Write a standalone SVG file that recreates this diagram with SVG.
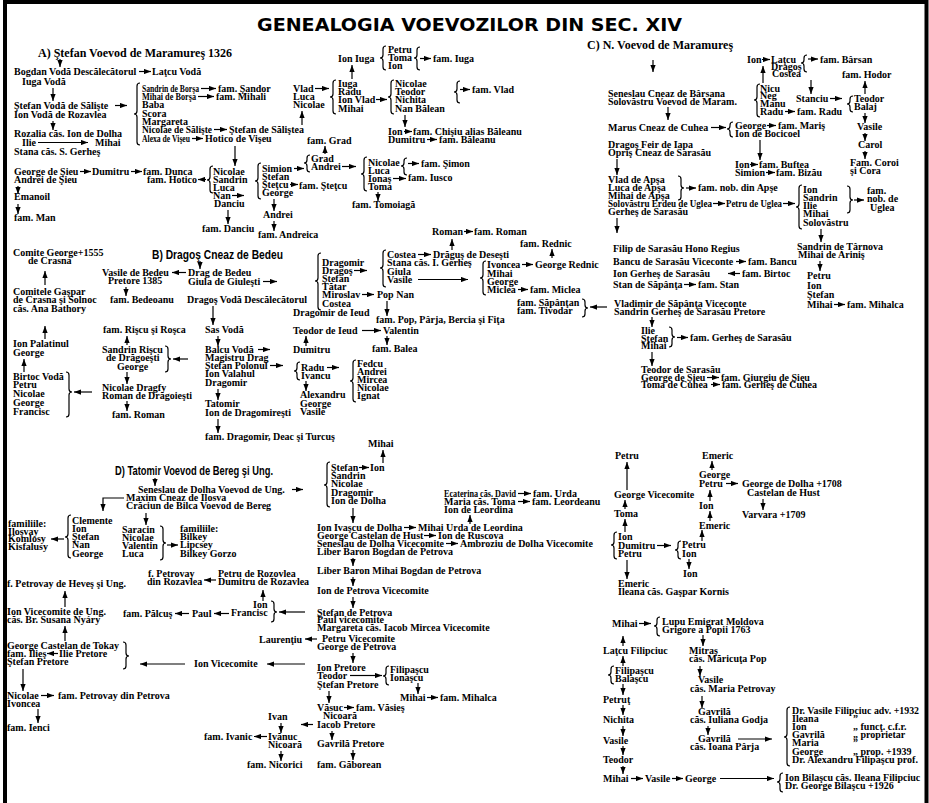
<svg xmlns="http://www.w3.org/2000/svg" width="929" height="803" viewBox="0 0 929 803">
<defs>
<marker id="ah" viewBox="0 0 8 6" refX="8" refY="3" markerWidth="7" markerHeight="5.5" orient="auto" markerUnits="userSpaceOnUse"><path d="M0,0 L8,3 L0,6 Z" fill="#000"/></marker>
<style>
.t{font-family:"Liberation Serif","Times New Roman",serif;font-weight:bold;font-size:10px;fill:#000}
.h{font-family:"Liberation Serif","Times New Roman",serif;font-weight:bold;font-size:12px;fill:#000}
.hs{font-family:"Liberation Sans Narrow","Liberation Sans",Arial,sans-serif;font-weight:bold;font-size:12px;fill:#000}
.ttl{font-family:"DejaVu Sans","Liberation Sans",sans-serif;font-weight:bold;font-size:18px;fill:#000}
.c line,.c polyline{stroke:#000;stroke-width:1.2;fill:none;marker-end:url(#ah)}
.b path{stroke:#000;stroke-width:1.2;fill:none}
</style>
</defs>
<rect width="929" height="803" fill="#fff"/>
<path d="M5,803 V2 H926.5 V803" stroke="#000" stroke-width="4" fill="none"/>
<g id="title"><text class="ttl" x="257" y="31" textLength="425" lengthAdjust="spacingAndGlyphs">GENEALOGIA VOEVOZILOR DIN SEC. XIV</text></g>

<!-- ===== A ===== -->
<g id="a-head"><text class="h" x="38" y="57">A) Ştefan Voevod de Maramureş 1326</text></g>
<g id="a-bogdan"><text class="t" x="14" y="75">Bogdan Vodă Descălecătorul</text></g>
<g id="a-latcu"><text class="t" x="152" y="75">Laţcu Vodă</text></g>
<g id="a-iuga"><text class="t" x="22" y="85">Iuga Vodă</text></g>
<g id="a-stefan"><text class="t"><tspan x="14" y="109">Ştefan Vodă de Sălişte</tspan><tspan x="14" y="118">Ion Vodă de Rozavlea</tspan></text></g>
<g id="a-rozalia"><text class="t"><tspan x="14" y="137">Rozalia căs. Ion de Dolha</tspan><tspan x="22" y="146">Ilie</tspan><tspan x="14" y="155">Stana căs. S. Gerheş</tspan></text></g>
<g id="a-mihai"><text class="t" x="95" y="146">Mihai</text></g>
<g id="a-list">
<text class="t" x="142" y="92" textLength="57" lengthAdjust="spacingAndGlyphs">Sandrin de Borşa</text>
<text class="t" x="142" y="100" textLength="54" lengthAdjust="spacingAndGlyphs">Mihai de Borşa</text>
<text class="t"><tspan x="142" y="108">Baba</tspan><tspan x="142" y="117">Scora</tspan><tspan x="142" y="125">Margareta</tspan></text>
<text class="t" x="142" y="133" textLength="70" lengthAdjust="spacingAndGlyphs">Nicolae de Sălişte</text>
<text class="t" x="142" y="142" textLength="48" lengthAdjust="spacingAndGlyphs">Alexa de Vişeu</text>
</g>
<g id="a-sandor"><text class="t" x="218" y="92">fam. Şandor</text></g>
<g id="a-mihali"><text class="t" x="216" y="100">fam. Mihali</text></g>
<g id="a-salistea"><text class="t" x="229" y="133">Ştefan de Săliştea</text></g>
<g id="a-hotico"><text class="t" x="205" y="142">Hotico de Vişeu</text></g>
<g id="a-vlad"><text class="t"><tspan x="293" y="92">Vlad</tspan><tspan x="293" y="100">Luca</tspan><tspan x="293" y="108">Nicolae</tspan></text></g>
<g id="a-famgrad"><text class="t" x="307" y="144">fam. Grad</text></g>
<g id="a-ioniuga"><text class="t" x="338" y="62">Ion Iuga</text></g>
<g id="a-petru"><text class="t"><tspan x="388" y="53">Petru</tspan><tspan x="388" y="61">Toma</tspan><tspan x="388" y="69">Ion</tspan></text></g>
<g id="a-famiuga"><text class="t" x="433" y="62">fam. Iuga</text></g>
<g id="a-iugalist"><text class="t"><tspan x="338" y="87">Iuga</tspan><tspan x="338" y="95">Radu</tspan><tspan x="338" y="103">Ion Vlad</tspan><tspan x="338" y="112">Mihai</tspan></text></g>
<g id="a-nicolaelist"><text class="t"><tspan x="395" y="87">Nicolae</tspan><tspan x="395" y="95">Teodor</tspan><tspan x="395" y="103">Nichita</tspan><tspan x="395" y="112">Nan Bălean</tspan></text></g>
<g id="a-famvlad"><text class="t" x="472" y="93">fam. Vlad</text></g>
<g id="a-ionchisiu"><text class="t"><tspan x="388" y="135">Ion</tspan><tspan x="413" y="135">fam. Chişiu alias Băleanu</tspan></text></g>
<g id="a-dumbaleanu"><text class="t"><tspan x="388" y="143">Dumitru</tspan><tspan x="439" y="143">fam. Băleanu</tspan></text></g>
<g id="a-george"><text class="t"><tspan x="14" y="175">George de Şieu</tspan><tspan x="14" y="183">Andrei de Şieu</tspan></text></g>
<g id="a-dumitru"><text class="t" x="92" y="175">Dumitru</text></g>
<g id="a-dunca"><text class="t" x="143" y="175">fam. Dunca</text></g>
<g id="a-famhotico"><text class="t" x="147" y="183">fam. Hotico</text></g>
<g id="a-emanoil"><text class="t" x="14" y="200">Emanoil</text></g>
<g id="a-famman"><text class="t" x="14" y="221">fam. Man</text></g>
<g id="a-nicolae2"><text class="t"><tspan x="213" y="175">Nicolae</tspan><tspan x="213" y="183">Sandrin</tspan><tspan x="213" y="191">Luca</tspan><tspan x="213" y="199">Nan</tspan><tspan x="214" y="207">Danciu</tspan></text></g>
<g id="a-famdanciu"><text class="t" x="202" y="232">fam. Danciu</text></g>
<g id="a-simion"><text class="t"><tspan x="262" y="172">Simion</tspan><tspan x="262" y="180">Ştefan</tspan><tspan x="262" y="188">Şteţcu</tspan><tspan x="262" y="196">George</tspan></text></g>
<g id="a-famstetcu"><text class="t" x="299" y="189">fam. Şteţcu</text></g>
<g id="a-andrei"><text class="t" x="263" y="218">Andrei</text></g>
<g id="a-andreica"><text class="t" x="258" y="238">fam. Andreica</text></g>
<g id="a-grad"><text class="t"><tspan x="311" y="162">Grad</tspan><tspan x="311" y="170">Andrei</tspan></text></g>
<g id="a-nicolae3"><text class="t"><tspan x="368" y="166">Nicolae</tspan><tspan x="368" y="174">Luca</tspan><tspan x="368" y="182">Ionaş</tspan><tspan x="368" y="190">Toma</tspan></text></g>
<g id="a-simon"><text class="t" x="421" y="167">fam. Şimon</text></g>
<g id="a-iusco"><text class="t" x="408" y="181">fam. Iusco</text></g>
<g id="a-tomoiaga"><text class="t" x="352" y="208">fam. Tomoiagă</text></g>

<!-- ===== C ===== -->
<g id="c-head"><text class="h" x="587" y="49">C) N. Voevod de Maramureş</text></g>
<g id="c-seneslau"><text class="t"><tspan x="608" y="97">Seneslau Cneaz de Bârsana</tspan><tspan x="608" y="105">Solovăstru Voevod de Maram.</tspan></text></g>
<g id="c-marus"><text class="t" x="608" y="131">Marus Cneaz de Cuhea</text></g>
<g id="c-george"><text class="t"><tspan x="735" y="129">George</tspan><tspan x="735" y="137">Ion de Bocicoel</tspan></text></g>
<g id="c-maris"><text class="t" x="778" y="129">fam. Mariş</text></g>
<g id="c-dragos"><text class="t"><tspan x="608" y="148">Dragoş Feir de Iapa</tspan><tspan x="608" y="156">Opriş Cneaz de Sarasău</tspan></text></g>
<g id="c-ion"><text class="t"><tspan x="735" y="168">Ion</tspan><tspan x="735" y="176">Simion</tspan></text></g>
<g id="c-buftea"><text class="t"><tspan x="759" y="168">fam. Buftea</tspan><tspan x="776" y="176">fam. Bizău</tspan></text></g>
<g id="c-apsa"><text class="t"><tspan x="608" y="183">Vlad de Apşa</tspan><tspan x="608" y="191">Luca de Apşa</tspan><tspan x="608" y="199">Mihai de Apşa</tspan></text>
<text class="t" x="608" y="207" textLength="104" lengthAdjust="spacingAndGlyphs">Solovăstru Erdeu de Uglea</text>
<text class="t" x="608" y="215">Gerheş de Sarasău</text></g>
<g id="c-nobapse"><text class="t" x="698" y="191">fam. nob. din Apşe</text></g>
<g id="c-petruuglea"><text class="t" x="726" y="207" textLength="56" lengthAdjust="spacingAndGlyphs">Petru de Uglea</text></g>
<g id="c-ionlist"><text class="t"><tspan x="803" y="193">Ion</tspan><tspan x="803" y="201">Sandrin</tspan><tspan x="803" y="209">Ilie</tspan><tspan x="803" y="217">Mihai</tspan><tspan x="803" y="226">Solovăstru</tspan></text></g>
<g id="c-nobuglea"><text class="t"><tspan x="867" y="194">fam.</tspan><tspan x="867" y="202">nob. de</tspan><tspan x="870" y="211">Uglea</tspan></text></g>
<g id="c-sandrin"><text class="t"><tspan x="797" y="250">Sandrin de Târnova</tspan><tspan x="798" y="258">Mihai de Ariniş</tspan></text></g>
<g id="c-petru"><text class="t"><tspan x="807" y="279">Petru</tspan><tspan x="807" y="289">Ion</tspan><tspan x="807" y="298">Ştefan</tspan><tspan x="807" y="308">Mihai</tspan></text></g>
<g id="c-mihalca"><text class="t" x="847" y="308">fam. Mihalca</text></g>
<g id="c-ionlatcu"><text class="t" x="747" y="63">Ion</text></g>
<g id="c-latcu"><text class="t"><tspan x="771" y="63">Laţcu</tspan><tspan x="771" y="70">Dragoş</tspan><tspan x="772" y="77">Costea</tspan></text></g>
<g id="c-barsan"><text class="t" x="820" y="63">fam. Bârsan</text></g>
<g id="c-hodor"><text class="t" x="842" y="78">fam. Hodor</text></g>
<g id="c-nicu"><text class="t"><tspan x="760" y="92">Nicu</tspan><tspan x="760" y="99">Neg</tspan><tspan x="760" y="107">Manu</tspan><tspan x="760" y="115">Radu</tspan></text></g>
<g id="c-famradu"><text class="t" x="797" y="115">fam. Radu</text></g>
<g id="c-stanciu"><text class="t" x="796" y="102">Stanciu</text></g>
<g id="c-teodor"><text class="t"><tspan x="854" y="102">Teodor</tspan><tspan x="854" y="110">Balaj</tspan></text></g>
<g id="c-vasile"><text class="t" x="857" y="130">Vasile</text></g>
<g id="c-carol"><text class="t" x="858" y="148">Carol</text></g>
<g id="c-coroi"><text class="t"><tspan x="850" y="166">Fam. Coroi</tspan><tspan x="850" y="174">şi Cora</tspan></text></g>
<g id="c-filip"><text class="t" x="613" y="252">Filip de Sarasău Hono Regius</text></g>
<g id="c-bancu"><text class="t"><tspan x="613" y="265">Bancu de Sarasău Viceconte</tspan><tspan x="748" y="265">fam. Bancu</tspan></text></g>
<g id="c-gerhes"><text class="t"><tspan x="613" y="277">Ion Gerheş de Sarasău</tspan><tspan x="742" y="277">fam. Birtoc</tspan></text></g>
<g id="c-stan"><text class="t"><tspan x="613" y="288">Stan de Săpânţa</tspan><tspan x="698" y="288">fam. Stan</tspan></text></g>
<g id="c-vladimir"><text class="t"><tspan x="614" y="307">Vladimir de Săpânţa Viceconte</tspan><tspan x="614" y="315">Sandrin Gerheş de Sarasău Pretore</tspan></text></g>
<g id="c-sapantan"><text class="t"><tspan x="517" y="306">fam. Săpânţan</tspan><tspan x="517" y="314">fam. Tivodar</tspan></text></g>
<g id="c-ilie"><text class="t"><tspan x="641" y="334">Ilie</tspan><tspan x="641" y="342">Ştefan</tspan><tspan x="641" y="349">Mihai</tspan></text></g>
<g id="c-famgerhes"><text class="t" x="690" y="341">fam. Gerheş de Sarasău</text></g>
<g id="c-teodorsar"><text class="t"><tspan x="641" y="373">Teodor de Sarasău</tspan><tspan x="641" y="381">George de Şieu</tspan><tspan x="641" y="388">Toma de Cuhea</tspan></text></g>
<g id="c-giurgiu"><text class="t"><tspan x="721" y="381">fam. Giurgiu de Şieu</tspan><tspan x="722" y="388">fam. Gerheş de Cuhea</tspan></text></g>

<!-- ===== B ===== -->
<g id="b-head"><text class="hs" x="152" y="259" textLength="131" lengthAdjust="spacingAndGlyphs">B) Dragoş Cneaz de Bedeu</text></g>
<g id="b-comite"><text class="t"><tspan x="13" y="256">Comite George+1555</tspan><tspan x="28" y="264">de Crasna</tspan></text></g>
<g id="b-gaspar"><text class="t"><tspan x="13" y="295">Comitele Gaşpar</tspan><tspan x="13" y="303">de Crasna şi Solnoc</tspan><tspan x="13" y="312">căs. Ana Bathory</tspan></text></g>
<g id="b-palatinul"><text class="t"><tspan x="13" y="347">Ion Palatinul</tspan><tspan x="13" y="356">George</tspan></text></g>
<g id="b-birtoc"><text class="t"><tspan x="13" y="380">Birtoc Vodă</tspan><tspan x="13" y="388">Petru</tspan><tspan x="13" y="397">Nicolae</tspan><tspan x="13" y="406">George</tspan><tspan x="13" y="415">Francisc</tspan></text></g>
<g id="b-vasile"><text class="t"><tspan x="102" y="276">Vasile de Bedeu</tspan><tspan x="108" y="284">Pretore 1385</tspan></text></g>
<g id="b-bedeoanu"><text class="t" x="110" y="303">fam. Bedeoanu</text></g>
<g id="b-drag"><text class="t"><tspan x="188" y="276">Drag de Bedeu</tspan><tspan x="188" y="285">Giula de Giuleşti</tspan></text></g>
<g id="b-dragosvoda"><text class="t" x="187" y="303">Dragoş Vodă Descălecătorul</text></g>
<g id="b-riscu"><text class="t" x="103" y="333">fam. Rişcu şi Roşca</text></g>
<g id="b-sandrin"><text class="t"><tspan x="102" y="353">Sandrin Rişcu</tspan><tspan x="106" y="361">de Drăgoeşti</tspan><tspan x="117" y="370">George</tspan></text></g>
<g id="b-dragfy"><text class="t"><tspan x="102" y="391">Nicolae Dragfy</tspan><tspan x="102" y="399">Roman de Drăgoieşti</tspan></text></g>
<g id="b-famroman1"><text class="t" x="112" y="418">fam. Roman</text></g>
<g id="b-sas"><text class="t" x="205" y="333">Sas Vodă</text></g>
<g id="b-balcu"><text class="t"><tspan x="205" y="353">Balcu Vodă</tspan><tspan x="205" y="361">Magistru Drag</tspan><tspan x="205" y="369">Ştefan Polonul</tspan><tspan x="205" y="377">Ion Valahul</tspan><tspan x="205" y="386">Dragomir</tspan></text></g>
<g id="b-tatomir"><text class="t"><tspan x="205" y="407">Tatomir</tspan><tspan x="205" y="416">Ion de Dragomireşti</tspan></text></g>
<g id="b-famdragomir"><text class="t" x="205" y="440">fam. Dragomir, Deac şi Turcuş</text></g>
<g id="b-dragomirlist"><text class="t"><tspan x="322" y="266">Dragomir</tspan><tspan x="322" y="274">Dragoş</tspan><tspan x="322" y="282">Ştefan</tspan><tspan x="322" y="290">Tătar</tspan><tspan x="322" y="298">Miroslav</tspan><tspan x="322" y="307">Costea</tspan></text></g>
<g id="b-ieud"><text class="t"><tspan x="293" y="316">Dragomir de Ieud</tspan><tspan x="293" y="334">Teodor de Ieud</tspan></text></g>
<g id="b-dumitru"><text class="t" x="293" y="353">Dumitru</text></g>
<g id="b-radu"><text class="t"><tspan x="301" y="371">Radu</tspan><tspan x="301" y="379">Ivancu</tspan></text></g>
<g id="b-alexandru"><text class="t"><tspan x="300" y="398">Alexandru</tspan><tspan x="300" y="407">George</tspan><tspan x="300" y="415">Vasile</tspan></text></g>
<g id="b-fedcu"><text class="t"><tspan x="357" y="367">Fedcu</tspan><tspan x="357" y="375">Andrei</tspan><tspan x="357" y="383">Mircea</tspan><tspan x="357" y="391">Nicolae</tspan><tspan x="357" y="399">Ignat</tspan></text></g>
<g id="b-popnan"><text class="t" x="377" y="298">Pop Nan</text></g>
<g id="b-fampop"><text class="t" x="376" y="323">fam. Pop, Pârja, Bercia şi Fiţa</text></g>
<g id="b-valentin"><text class="t" x="383" y="334">Valentin</text></g>
<g id="b-balea"><text class="t" x="372" y="352">fam. Balea</text></g>
<g id="b-costealist"><text class="t"><tspan x="387" y="258">Costea</tspan><tspan x="387" y="266">Stana căs. I. Gerheş</tspan><tspan x="387" y="275">Giula</tspan><tspan x="387" y="283">Vasile</tspan></text></g>
<g id="b-dragus"><text class="t" x="433" y="258">Drăguş de Deseşti</text></g>
<g id="b-roman"><text class="t"><tspan x="432" y="235">Roman</tspan><tspan x="474" y="235">fam. Roman</tspan></text></g>
<g id="b-rednic"><text class="t" x="520" y="247">fam. Rednic</text></g>
<g id="b-ivoncea"><text class="t"><tspan x="487" y="268">Ivoncea</tspan><tspan x="487" y="277">Mihai</tspan><tspan x="487" y="285">George</tspan><tspan x="487" y="293">Miclea</tspan></text></g>
<g id="b-georgerednic"><text class="t" x="535" y="268">George Rednic</text></g>
<g id="b-miclea"><text class="t" x="530" y="293">fam. Miclea</text></g>

<!-- ===== D ===== -->
<g id="d-head"><text class="hs" x="115" y="475" textLength="158" lengthAdjust="spacingAndGlyphs">D) Tatomir Voevod de Bereg şi Ung.</text></g>
<g id="d-seneslau"><text class="t" x="138" y="493">Seneslau de Dolha Voevod de Ung.</text></g>
<g id="d-maxim"><text class="t"><tspan x="126" y="501">Maxim Cneaz de Ilosva</tspan><tspan x="126" y="509">Crăciun de Bilca Voevod de Bereg</tspan></text></g>
<g id="d-fam1"><text class="t"><tspan x="8" y="527">familiile:</tspan><tspan x="8" y="535">Iloşvay</tspan><tspan x="8" y="542">Komlosy</tspan><tspan x="8" y="550">Kisfalusy</tspan></text></g>
<g id="d-clemente"><text class="t"><tspan x="72" y="524">Clemente</tspan><tspan x="72" y="532">Ion</tspan><tspan x="72" y="540">Ştefan</tspan><tspan x="72" y="548">Nan</tspan><tspan x="72" y="557">George</tspan></text></g>
<g id="d-saracin"><text class="t"><tspan x="122" y="533">Saracin</tspan><tspan x="122" y="541">Nicolae</tspan><tspan x="122" y="549">Valentin</tspan><tspan x="122" y="557">Luca</tspan></text></g>
<g id="d-fam2"><text class="t"><tspan x="180" y="532">familiile:</tspan><tspan x="180" y="540">Bilkey</tspan><tspan x="180" y="548">Lipcsey</tspan><tspan x="180" y="557">Bilkey Gorzo</tspan></text></g>
<g id="d-heves"><text class="t" x="7" y="587">f. Petrovay de Heveş şi Ung.</text></g>
<g id="d-frozavlea"><text class="t"><tspan x="148" y="577">f. Petrovay</tspan><tspan x="147" y="585">din Rozavlea</tspan></text></g>
<g id="d-petrurozovlea"><text class="t"><tspan x="218" y="577">Petru de Rozovlea</tspan><tspan x="218" y="585">Dumitru de Rozavlea</tspan></text></g>
<g id="d-ionfrancisc"><text class="t"><tspan x="253" y="608">Ion</tspan><tspan x="231" y="616">Francisc</tspan></text></g>
<g id="d-paul"><text class="t" x="192" y="617">Paul</text></g>
<g id="d-palcus"><text class="t" x="123" y="617">fam. Pălcuş</text></g>
<g id="d-ionvicecomiteung"><text class="t"><tspan x="7" y="615">Ion Vicecomite de Ung.</tspan><tspan x="7" y="623">căs. Br. Susana Nyáry</tspan></text></g>
<g id="d-tokay"><text class="t"><tspan x="7" y="649">George Castelan de Tokay</tspan><tspan x="7" y="657">fam. Ilieş</tspan><tspan x="59" y="657">Ilie Pretore</tspan><tspan x="7" y="665">Ştefan Pretore</tspan></text></g>
<g id="d-ionvicecomite"><text class="t" x="194" y="667">Ion Vicecomite</text></g>
<g id="d-laurentiu"><text class="t" x="259" y="643">Laurenţiu</text></g>
<g id="d-nicolae"><text class="t"><tspan x="7" y="699">Nicolae</tspan><tspan x="7" y="707">Ivoncea</tspan></text></g>
<g id="d-petrova"><text class="t" x="58" y="699">fam. Petrovay din Petrova</text></g>
<g id="d-ienci"><text class="t" x="7" y="731">fam. Ienci</text></g>
<g id="d-ivan"><text class="t" x="268" y="720">Ivan</text></g>
<g id="d-ivanuc"><text class="t"><tspan x="268" y="740">Ivănuc</tspan><tspan x="268" y="748">Nicoară</tspan></text></g>
<g id="d-ivanic"><text class="t" x="204" y="740">fam. Ivanic</text></g>
<g id="d-nicorici"><text class="t" x="247" y="768">fam. Nicorici</text></g>
<g id="d-mihai"><text class="t" x="368" y="447">Mihai</text></g>
<g id="d-stefanlist"><text class="t"><tspan x="331" y="471">Ştefan</tspan><tspan x="331" y="479">Sandrin</tspan><tspan x="331" y="487">Nicolae</tspan><tspan x="331" y="496">Dragomir</tspan><tspan x="331" y="504">Ion de Dolha</tspan></text></g>
<g id="d-ion"><text class="t" x="370" y="471">Ion</text></g>
<g id="d-ivascu"><text class="t"><tspan x="317" y="531">Ion Ivaşcu de Dolha</tspan><tspan x="317" y="539">George Castelan de Hust</tspan><tspan x="317" y="547">Seneslau de Dolha Vicecomite</tspan><tspan x="317" y="555">Liber Baron Bogdan de Petrova</tspan></text></g>
<g id="d-urda"><text class="t" x="418" y="531">Mihai Urda de Leordina</text></g>
<g id="d-ruscova"><text class="t" x="438" y="539">Ion de Ruscova</text></g>
<g id="d-ambroziu"><text class="t" x="460" y="547">Ambroziu de Dolha Vicecomite</text></g>
<g id="d-ecaterina"><text class="t" x="444" y="497" textLength="72" lengthAdjust="spacingAndGlyphs">Ecaterina căs. David</text><text class="t"><tspan x="444" y="505">Maria căs. Toma</tspan><tspan x="444" y="513">Ion de Leordina</tspan></text></g>
<g id="d-famurda"><text class="t" x="533" y="497">fam. Urda</text></g>
<g id="d-leordeanu"><text class="t" x="532" y="505">fam. Leordeanu</text></g>
<g id="d-mihaibogdan"><text class="t" x="317" y="574">Liber Baron Mihai Bogdan de Petrova</text></g>
<g id="d-ionpetrova"><text class="t" x="317" y="594">Ion de Petrova Vicecomite</text></g>
<g id="d-stefanpetrova"><text class="t"><tspan x="317" y="616">Ştefan de Petrova</tspan><tspan x="317" y="623">Paul vicecomite</tspan><tspan x="317" y="631">Margareta căs. Iacob Mircea Vicecomite</tspan><tspan x="322" y="642">Petru Vicecomite</tspan><tspan x="317" y="650">George de Petrova</tspan></text></g>
<g id="d-ionpretore"><text class="t"><tspan x="317" y="671">Ion Pretore</tspan><tspan x="317" y="679">Teodor</tspan><tspan x="317" y="688">Ştefan Pretore</tspan></text></g>
<g id="d-filipascu"><text class="t"><tspan x="390" y="673">Filipaşcu</tspan><tspan x="390" y="681">Ionaşcu</tspan></text></g>
<g id="d-mihaimihalca"><text class="t"><tspan x="400" y="701">Mihai</tspan><tspan x="440" y="701">fam. Mihalca</tspan></text></g>
<g id="d-vasuc"><text class="t"><tspan x="317" y="711">Văsuc</tspan><tspan x="356" y="711">fam. Văsieş</tspan></text></g>
<g id="d-iacob"><text class="t"><tspan x="323" y="719">Nicoară</tspan><tspan x="317" y="728">Iacob Pretore</tspan></text></g>
<g id="d-gavrila"><text class="t" x="317" y="747">Gavrilă Pretore</text></g>
<g id="d-gaborean"><text class="t" x="317" y="768">fam. Găborean</text></g>

<!-- right lower -->
<g id="e-petru"><text class="t" x="615" y="459">Petru</text></g>
<g id="e-georgevice"><text class="t" x="614" y="498">George Vicecomite</text></g>
<g id="e-toma"><text class="t" x="614" y="517">Toma</text></g>
<g id="e-ionlist"><text class="t"><tspan x="618" y="540">Ion</tspan><tspan x="618" y="549">Dumitru</tspan><tspan x="618" y="557">Petru</tspan></text></g>
<g id="e-petruion"><text class="t"><tspan x="682" y="548">Petru</tspan><tspan x="682" y="557">Ion</tspan></text></g>
<g id="e-ion2"><text class="t" x="683" y="577">Ion</text></g>
<g id="e-chain"><text class="t"><tspan x="702" y="459">Emeric</tspan><tspan x="699" y="478">George</tspan><tspan x="699" y="487">Petru</tspan><tspan x="699" y="509">Ion</tspan><tspan x="699" y="529">Emeric</tspan></text></g>
<g id="e-dolha"><text class="t"><tspan x="742" y="487">George de Dolha +1708</tspan><tspan x="747" y="496">Castelan de Hust</tspan></text></g>
<g id="e-varvara"><text class="t" x="742" y="518">Varvara +1709</text></g>
<g id="e-emeric"><text class="t"><tspan x="618" y="587">Emeric</tspan><tspan x="618" y="595">Ileana căs. Gaşpar Kornis</tspan></text></g>
<g id="f-mihai"><text class="t" x="612" y="627">Mihai</text></g>
<g id="f-lupu"><text class="t"><tspan x="662" y="625">Lupu Emigrat Moldova</tspan><tspan x="662" y="633">Grigore a Popii 1763</tspan></text></g>
<g id="f-latcu"><text class="t" x="603" y="654">Laţcu Filipciuc</text></g>
<g id="f-mitras"><text class="t"><tspan x="689" y="654">Mitraş</tspan><tspan x="689" y="662">căs. Măricuţa Pop</tspan></text></g>
<g id="f-filipascu"><text class="t"><tspan x="615" y="674">Filipaşcu</tspan><tspan x="615" y="682">Balaşcu</tspan></text></g>
<g id="f-petrut"><text class="t" x="603" y="703">Petruţ</text></g>
<g id="f-nichita"><text class="t" x="603" y="723">Nichita</text></g>
<g id="f-vasile"><text class="t" x="603" y="744">Vasile</text></g>
<g id="f-teodor"><text class="t" x="603" y="763">Teodor</text></g>
<g id="f-mihai2"><text class="t" x="603" y="782">Mihai</text></g>
<g id="f-vasile2"><text class="t" x="645" y="782">Vasile</text></g>
<g id="f-george"><text class="t" x="685" y="782">George</text></g>
<g id="f-vasilemaria"><text class="t"><tspan x="698" y="683">Vasile</tspan><tspan x="690" y="692">căs. Maria Petrovay</tspan></text></g>
<g id="f-gavrila1"><text class="t"><tspan x="698" y="715">Gavrilă</tspan><tspan x="690" y="723">căs. Iuliana Godja</tspan></text></g>
<g id="f-gavrila2"><text class="t"><tspan x="698" y="742">Gavrilă</tspan><tspan x="690" y="750">căs. Ioana Pârja</tspan></text></g>
<g id="f-children"><text class="t" x="792" y="714" textLength="127" lengthAdjust="spacingAndGlyphs">Dr. Vasile Filipciuc adv. +1932</text>
<text class="t"><tspan x="792" y="722">Ileana</tspan><tspan x="792" y="730">Ion</tspan><tspan x="792" y="738">Gavrilă</tspan><tspan x="792" y="746">Maria</tspan><tspan x="792" y="755">George</tspan></text>
<text class="t" x="792" y="763" textLength="126" lengthAdjust="spacingAndGlyphs">Dr. Alexandru Filipaşcu prof.</text>
<text class="t"><tspan x="853" y="722">”</tspan><tspan x="853" y="730">„ funcţ. c.f.r.</tspan><tspan x="853" y="738">„ proprietar</tspan><tspan x="853" y="746">”</tspan><tspan x="853" y="755">„ prop. +1939</tspan></text></g>
<g id="f-bilascu"><text class="t"><tspan x="785" y="781">Ion Bilaşcu căs. Ileana Filipciuc</tspan><tspan x="785" y="789">Dr. George Bilaşcu +1926</tspan></text></g>

<!-- ===== braces ===== -->
<g id="braces" class="b">
<path d="M140,83 Q137,83 137,86 V111 Q137,114 134,114 Q137,114 137,117 V142 Q137,145 140,145"/>
<path d="M336,80 Q333,80 333,83 V94 Q333,97 330,97 Q333,97 333,100 V111 Q333,114 336,114"/>
<path d="M386,46 Q383,46 383,49 V55 Q383,58 380,58 Q383,58 383,61 V67 Q383,70 386,70"/>
<path d="M420,47 Q417,47 417,50 V55 Q417,58 414,58 Q417,58 417,61 V67 Q417,70 420,70"/>
<path d="M394,80 Q391,80 391,83 V94 Q391,97 388,97 Q391,97 391,100 V111 Q391,114 394,114"/>
<path d="M460,81 Q457,81 457,84 V89 Q457,92 454,92 Q457,92 457,95 V100 Q457,103 460,103"/>
<path d="M213,166 Q210,166 210,169 V177 Q210,180 207,180 Q210,180 210,183 V190 Q210,193 213,193"/>
<path d="M261,163 Q258,163 258,166 V178 Q258,181 255,181 Q258,181 258,184 V196 Q258,199 261,199"/>
<path d="M310,155 Q307,155 307,158 V160 Q307,163 304,163 Q307,163 307,166 V169 Q307,172 310,172"/>
<path d="M367,157 Q364,157 364,160 V171 Q364,174 361,174 Q364,174 364,177 V188 Q364,191 367,191"/>
<path d="M407,158 Q404,158 404,161 V163 Q404,166 401,166 Q404,166 404,169 V172 Q404,175 407,175"/>
<path d="M807,55 Q804,55 804,58 V60 Q804,63 801,63 Q804,63 804,66 V69 Q804,72 807,72"/>
<path d="M760,84 Q757,84 757,87 V97 Q757,100 754,100 Q757,100 757,103 V114 Q757,117 760,117"/>
<path d="M853,96 Q850,96 850,99 V101 Q850,104 847,104 Q850,104 850,107 V109 Q850,112 853,112"/>
<path d="M733,122 Q730,122 730,125 V126 Q730,129 727,129 Q730,129 730,132 V134 Q730,137 733,137"/>
<path d="M678,176 Q681,176 681,179 V185 Q681,188 684,188 Q681,188 681,191 V197 Q681,200 678,200"/>
<path d="M802,185 Q799,185 799,188 V204 Q799,207 796,207 Q799,207 799,210 V226 Q799,229 802,229"/>
<path d="M847,186 Q850,186 850,189 V197 Q850,200 853,200 Q850,200 850,203 V210 Q850,213 847,213"/>
<path d="M582,299 Q585,299 585,302 V305 Q585,308 588,308 Q585,308 585,311 V314 Q585,317 582,317"/>
<path d="M669,327 Q672,327 672,330 V334 Q672,337 675,337 Q672,337 672,340 V344 Q672,347 669,347"/>
<path d="M66,372 Q69,372 69,375 V389 Q69,392 72,392 Q69,392 69,395 V414 Q69,417 66,417"/>
<path d="M165,346 Q168,346 168,349 V356 Q168,359 171,359 Q168,359 168,362 V369 Q168,372 165,372"/>
<path d="M321,253 Q318,253 318,256 V278 Q318,281 315,281 Q318,281 318,284 V307 Q318,310 321,310"/>
<path d="M386,250 Q383,250 383,253 V265 Q383,268 380,268 Q383,268 383,271 V284 Q383,287 386,287"/>
<path d="M486,261 Q483,261 483,264 V275 Q483,278 480,278 Q483,278 483,281 V292 Q483,295 486,295"/>
<path d="M300,362 Q297,362 297,365 V368 Q297,371 294,371 Q297,371 297,374 V377 Q297,380 300,380"/>
<path d="M356,360 Q353,360 353,363 V378 Q353,381 350,381 Q353,381 353,384 V399 Q353,402 356,402"/>
<path d="M71,515 Q68,515 68,518 V534 Q68,537 65,537 Q68,537 68,540 V555 Q68,558 71,558"/>
<path d="M160,526 Q163,526 163,529 V540 Q163,543 166,543 Q163,543 163,546 V557 Q163,560 160,560"/>
<path d="M271,601 Q274,601 274,604 V609 Q274,612 277,612 Q274,612 274,615 V619 Q274,622 271,622"/>
<path d="M123,642 Q126,642 126,645 V653 Q126,656 129,656 Q126,656 126,659 V666 Q126,669 123,669"/>
<path d="M330,462 Q327,462 327,465 V482 Q327,485 324,485 Q327,485 327,488 V504 Q327,507 330,507"/>
<path d="M389,666 Q386,666 386,669 V673 Q386,676 383,676 Q386,676 386,679 V682 Q386,685 389,685"/>
<path d="M617,532 Q614,532 614,535 V542 Q614,545 611,545 Q614,545 614,548 V556 Q614,559 617,559"/>
<path d="M681,541 Q678,541 678,544 V547 Q678,550 675,550 Q678,550 678,553 V556 Q678,559 681,559"/>
<path d="M660,617 Q657,617 657,620 V623 Q657,626 654,626 Q657,626 657,629 V633 Q657,636 660,636"/>
<path d="M614,666 Q611,666 611,669 V672 Q611,675 608,675 Q611,675 611,678 V681 Q611,684 614,684"/>
<path d="M790,707 Q787,707 787,710 V734 Q787,737 784,737 Q787,737 787,740 V763 Q787,766 790,766"/>
<path d="M783,773 Q780,773 780,776 V779 Q780,782 777,782 Q780,782 780,785 V789 Q780,792 783,792"/>
</g>

<!-- ===== connectors ===== -->
<g id="connectors" class="c">
<line x1="60" y1="59" x2="60" y2="67"/>
<line x1="139" y1="71.5" x2="151" y2="71.5"/>
<line x1="53" y1="88" x2="53" y2="101"/>
<line x1="115" y1="105.5" x2="127" y2="105.5"/>
<line x1="53" y1="121" x2="53" y2="130"/>
<line x1="38" y1="142.5" x2="88" y2="142.5"/>
<line x1="201" y1="88.5" x2="216" y2="88.5"/>
<line x1="198" y1="96.5" x2="214" y2="96.5"/>
<line x1="214" y1="129.5" x2="227" y2="129.5"/>
<line x1="192" y1="138.5" x2="203" y2="138.5"/>
<line x1="235" y1="146" x2="235" y2="166"/>
<line x1="302" y1="125" x2="302" y2="111"/>
<line x1="315" y1="88.5" x2="329" y2="88.5"/>
<line x1="352" y1="79" x2="352" y2="65"/>
<line x1="420" y1="58.5" x2="431" y2="58.5"/>
<line x1="376" y1="99.5" x2="387" y2="99.5"/>
<line x1="460" y1="89.5" x2="470" y2="89.5"/>
<line x1="405" y1="115" x2="405" y2="127"/>
<line x1="404" y1="131.5" x2="412" y2="131.5"/>
<line x1="427" y1="139.5" x2="437" y2="139.5"/>
<line x1="80" y1="171.5" x2="91" y2="171.5"/>
<line x1="131" y1="171.5" x2="142" y2="171.5"/>
<line x1="206" y1="179.5" x2="198" y2="179.5"/>
<line x1="232" y1="195.5" x2="244" y2="195.5"/>
<line x1="228" y1="210" x2="228" y2="224"/>
<line x1="18" y1="186" x2="18" y2="194"/>
<line x1="18" y1="204" x2="18" y2="214"/>
<line x1="294" y1="168.5" x2="304" y2="168.5"/>
<line x1="290" y1="184.5" x2="298" y2="184.5"/>
<line x1="274" y1="199" x2="274" y2="211"/>
<line x1="274" y1="221" x2="274" y2="231"/>
<line x1="325" y1="154" x2="325" y2="146"/>
<line x1="342" y1="166.5" x2="356" y2="166.5"/>
<line x1="408" y1="163.5" x2="419" y2="163.5"/>
<line x1="393" y1="178.5" x2="406" y2="178.5"/>
<line x1="378" y1="192" x2="378" y2="201"/>
<line x1="653" y1="60" x2="653" y2="72"/>
<line x1="668" y1="107" x2="668" y2="120"/>
<line x1="711" y1="127.5" x2="726" y2="127.5"/>
<line x1="767" y1="125.5" x2="776" y2="125.5"/>
<line x1="760" y1="140" x2="760" y2="160"/>
<line x1="750" y1="164.5" x2="758" y2="164.5"/>
<line x1="766" y1="172.5" x2="775" y2="172.5"/>
<line x1="617" y1="159" x2="617" y2="175"/>
<line x1="686" y1="188" x2="696" y2="188"/>
<line x1="713" y1="203.5" x2="725" y2="203.5"/>
<line x1="783" y1="203.5" x2="795" y2="203.5"/>
<line x1="854" y1="200" x2="864" y2="200"/>
<line x1="821" y1="229" x2="821" y2="242"/>
<line x1="820" y1="261" x2="820" y2="271"/>
<line x1="834" y1="304.5" x2="845" y2="304.5"/>
<line x1="762" y1="59.5" x2="770" y2="59.5"/>
<line x1="808" y1="59" x2="818" y2="59"/>
<line x1="763" y1="83" x2="763" y2="66"/>
<line x1="785" y1="111.5" x2="795" y2="111.5"/>
<line x1="811" y1="80" x2="811" y2="94"/>
<line x1="830" y1="98.5" x2="842" y2="98.5"/>
<line x1="865" y1="94" x2="865" y2="81"/>
<line x1="865" y1="113" x2="865" y2="123"/>
<line x1="865" y1="133" x2="865" y2="141"/>
<line x1="865" y1="151" x2="865" y2="159"/>
<line x1="617" y1="218" x2="617" y2="233"/>
<line x1="736" y1="261.5" x2="746" y2="261.5"/>
<line x1="740" y1="273.5" x2="728" y2="273.5"/>
<line x1="684" y1="284.5" x2="696" y2="284.5"/>
<line x1="607" y1="307" x2="590" y2="307"/>
<line x1="652" y1="317" x2="652" y2="327"/>
<line x1="677" y1="337.5" x2="688" y2="337.5"/>
<line x1="652" y1="352" x2="652" y2="366"/>
<line x1="707" y1="377.5" x2="719" y2="377.5"/>
<line x1="711" y1="384.5" x2="720" y2="384.5"/>
<line x1="200" y1="261" x2="200" y2="269"/>
<line x1="45" y1="285" x2="45" y2="271"/>
<line x1="45" y1="339" x2="45" y2="326"/>
<line x1="24" y1="372" x2="24" y2="359"/>
<line x1="92" y1="392" x2="74" y2="392"/>
<line x1="186" y1="272.5" x2="172" y2="272.5"/>
<line x1="126" y1="287" x2="126" y2="296"/>
<line x1="263" y1="281.5" x2="277" y2="281.5"/>
<line x1="213" y1="306" x2="213" y2="325"/>
<line x1="127" y1="345" x2="127" y2="336"/>
<line x1="188" y1="359" x2="173" y2="359"/>
<line x1="127" y1="372" x2="127" y2="384"/>
<line x1="127" y1="401" x2="127" y2="411"/>
<line x1="218" y1="336" x2="218" y2="346"/>
<line x1="258" y1="349.5" x2="270" y2="349.5"/>
<line x1="270" y1="365.5" x2="283" y2="365.5"/>
<line x1="218" y1="389" x2="218" y2="400"/>
<line x1="218" y1="419" x2="218" y2="433"/>
<line x1="306" y1="346" x2="306" y2="336"/>
<line x1="327" y1="367.5" x2="339" y2="367.5"/>
<line x1="306" y1="381" x2="306" y2="391"/>
<line x1="354" y1="270.5" x2="367" y2="270.5"/>
<line x1="362" y1="294.5" x2="374" y2="294.5"/>
<line x1="387" y1="301" x2="387" y2="316"/>
<line x1="362" y1="330.5" x2="381" y2="330.5"/>
<line x1="387" y1="336" x2="387" y2="345"/>
<line x1="418" y1="254.5" x2="431" y2="254.5"/>
<line x1="418" y1="279.5" x2="468" y2="279.5"/>
<line x1="452" y1="250" x2="452" y2="239"/>
<line x1="522" y1="264.5" x2="533" y2="264.5"/>
<line x1="518" y1="289.5" x2="528" y2="289.5"/>
<line x1="552" y1="258" x2="552" y2="249"/>
<line x1="464" y1="231.5" x2="473" y2="231.5"/>
<line x1="155" y1="478" x2="155" y2="486"/>
<line x1="292" y1="489.5" x2="303" y2="489.5"/>
<polyline points="124,498 103,498 103,511"/>
<line x1="146" y1="513" x2="146" y2="525"/>
<line x1="64" y1="539" x2="51" y2="539"/>
<line x1="167" y1="545" x2="178" y2="545"/>
<line x1="216" y1="580" x2="204" y2="580"/>
<line x1="263" y1="601" x2="263" y2="590"/>
<line x1="305" y1="612" x2="279" y2="612"/>
<line x1="229" y1="613.5" x2="214" y2="613.5"/>
<line x1="189" y1="613.5" x2="175" y2="613.5"/>
<line x1="65" y1="607" x2="65" y2="591"/>
<line x1="65" y1="641" x2="65" y2="626"/>
<line x1="58" y1="653.5" x2="47" y2="653.5"/>
<line x1="185" y1="664" x2="140" y2="664"/>
<line x1="305" y1="664" x2="267" y2="664"/>
<line x1="317" y1="639" x2="305" y2="639"/>
<polyline points="23,669 23,691"/>
<line x1="41" y1="695.5" x2="54" y2="695.5"/>
<line x1="38" y1="709" x2="38" y2="723"/>
<line x1="281" y1="723" x2="281" y2="733"/>
<line x1="267" y1="736.5" x2="254" y2="736.5"/>
<line x1="281" y1="751" x2="281" y2="761"/>
<line x1="313" y1="724.5" x2="301" y2="724.5"/>
<line x1="383" y1="463" x2="383" y2="450"/>
<line x1="359" y1="467.5" x2="369" y2="467.5"/>
<line x1="353" y1="508" x2="353" y2="523"/>
<line x1="404" y1="527.5" x2="416" y2="527.5"/>
<line x1="424" y1="535.5" x2="436" y2="535.5"/>
<line x1="446" y1="543.5" x2="458" y2="543.5"/>
<line x1="470" y1="524" x2="470" y2="515"/>
<line x1="518" y1="493.5" x2="531" y2="493.5"/>
<line x1="518" y1="501.5" x2="530" y2="501.5"/>
<line x1="353" y1="558" x2="353" y2="566"/>
<line x1="353" y1="577" x2="353" y2="586"/>
<line x1="353" y1="597" x2="353" y2="608"/>
<line x1="353" y1="653" x2="353" y2="663"/>
<line x1="350" y1="675.5" x2="382" y2="675.5"/>
<line x1="418" y1="683" x2="418" y2="694"/>
<line x1="427" y1="697.5" x2="438" y2="697.5"/>
<line x1="329" y1="691" x2="329" y2="703"/>
<line x1="344" y1="707.5" x2="354" y2="707.5"/>
<line x1="332" y1="731" x2="332" y2="740"/>
<line x1="353" y1="750" x2="353" y2="760"/>
<line x1="627" y1="490" x2="627" y2="462"/>
<line x1="625" y1="509" x2="625" y2="500"/>
<line x1="625" y1="532" x2="625" y2="519"/>
<line x1="657" y1="545.5" x2="671" y2="545.5"/>
<line x1="689" y1="559" x2="689" y2="569"/>
<line x1="702" y1="541" x2="702" y2="530"/>
<line x1="710" y1="521" x2="710" y2="511"/>
<line x1="710" y1="501" x2="710" y2="490"/>
<line x1="712" y1="470" x2="712" y2="461"/>
<line x1="726" y1="483.5" x2="738" y2="483.5"/>
<line x1="763" y1="499" x2="763" y2="510"/>
<line x1="627" y1="560" x2="627" y2="579"/>
<line x1="639" y1="623.5" x2="651" y2="623.5"/>
<line x1="623" y1="646" x2="623" y2="636"/>
<line x1="703" y1="635" x2="703" y2="646"/>
<line x1="623" y1="666" x2="623" y2="656"/>
<line x1="623" y1="684" x2="623" y2="695"/>
<line x1="623" y1="705" x2="623" y2="715"/>
<line x1="623" y1="726" x2="623" y2="736"/>
<line x1="623" y1="746" x2="623" y2="755"/>
<line x1="623" y1="766" x2="623" y2="774"/>
<line x1="631" y1="778.5" x2="643" y2="778.5"/>
<line x1="672" y1="778.5" x2="683" y2="778.5"/>
<line x1="720" y1="778.5" x2="774" y2="778.5"/>
<line x1="700" y1="666" x2="700" y2="676"/>
<line x1="702" y1="696" x2="702" y2="708"/>
<line x1="708" y1="726" x2="708" y2="735"/>
<line x1="738" y1="739" x2="772" y2="739"/>
</g>
</svg>
